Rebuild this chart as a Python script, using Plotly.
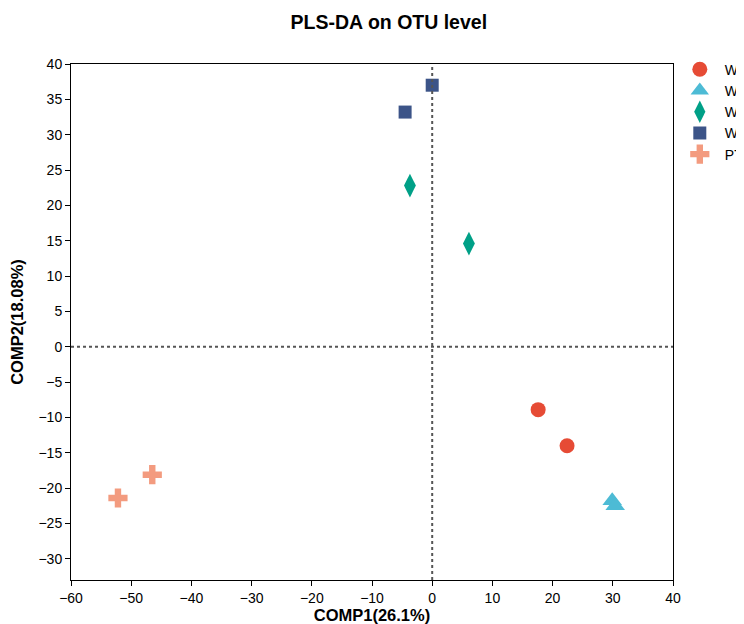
import plotly.graph_objects as go

groups = ["WN", "WC", "WI", "WE", "PT"]
colors = ["#E64B35", "#4DBBD5", "#00A087", "#3C5488", "#F39B7F"]
symbols = ["circle", "triangle-up", "diamond-tall", "square", "cross"]
sizes = [15, 17, 17, 13, 16]
comp1 = {
    "WN": [17.6, 22.4],
    "WC": [29.9, 30.4],
    "WI": [-3.7, 6.1],
    "WE": [-4.5, 0.0],
    "PT": [-46.5, -52.2],
}
comp2 = {
    "WN": [-8.9, -14.0],
    "WC": [-21.8, -22.5],
    "WI": [22.8, 14.6],
    "WE": [33.2, 37.0],
    "PT": [-18.1, -21.4],
}
x_ticks = list(range(-60, 41, 10))
y_ticks = list(range(-30, 41, 5))

fig = go.Figure()
for g, c, s, sz in zip(groups, colors, symbols, sizes):
    fig.add_trace(go.Scatter(
        x=comp1[g], y=comp2[g], mode="markers", name=g,
        marker=dict(color=c, symbol=s, size=sz, line=dict(width=0)),
    ))

fig.add_shape(type="line", xref="x", yref="paper", x0=0, x1=0, y0=0, y1=1,
              line=dict(color="#555555", width=2, dash="dot"))
fig.add_shape(type="line", xref="paper", yref="y", x0=0, x1=1, y0=0, y1=0,
              line=dict(color="#555555", width=2, dash="dot"))

axis_common = dict(
    showgrid=False, zeroline=False, showline=True, mirror=True,
    linecolor="black", linewidth=1, ticks="outside", ticklen=5,
    tickcolor="black", tickfont=dict(size=14, color="black"),
)
fig.update_layout(
    width=760, height=616,
    paper_bgcolor="white", plot_bgcolor="white",
    font=dict(family="Liberation Sans, Arial, sans-serif", color="black"),
    title=dict(text="<b>PLS-DA on OTU level</b>", x=0.528, xanchor="center",
               xref="paper", y=1 - 14.0 / 616, yanchor="middle",
               font=dict(size=19.5, color="black")),
    margin=dict(l=63, r=95, t=56, b=44, autoexpand=False),
    xaxis=dict(range=[-60, 40], tickvals=x_ticks,
               title=dict(text="<b>COMP1(26.1%)</b>", font=dict(size=16.5), standoff=2),
               **axis_common),
    yaxis=dict(range=[-33, 40], tickvals=y_ticks,
               title=dict(text="<b>COMP2(18.08%)</b>", font=dict(size=16.5), standoff=15),
               **axis_common),
    legend=dict(x=1.003, xanchor="left", y=1.02, yanchor="top",
                font=dict(size=14, color="black"), tracegroupgap=0,
                itemwidth=40, itemsizing="trace", bgcolor="rgba(0,0,0,0)"),
    showlegend=True,
)
fig.write_html("out.html")
